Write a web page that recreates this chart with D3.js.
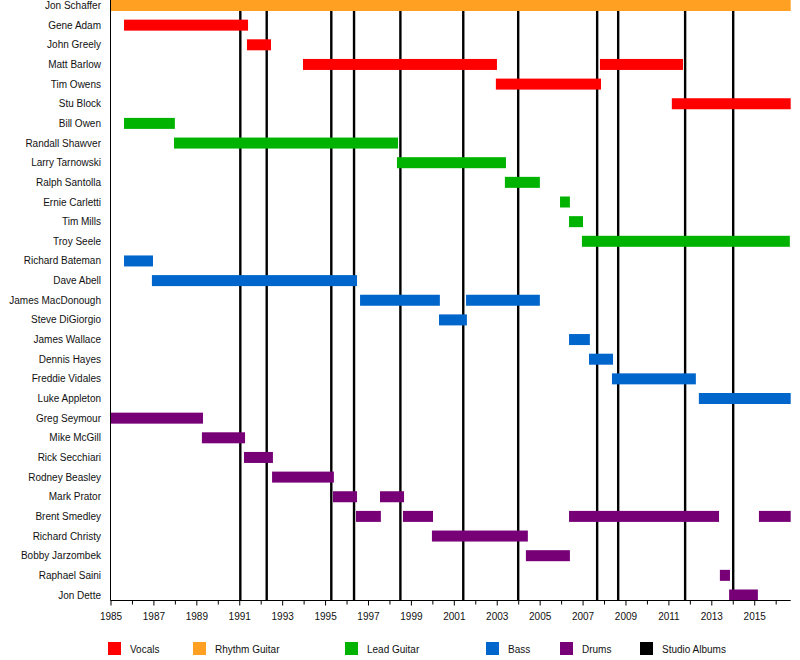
<!DOCTYPE html>
<html>
<head>
<meta charset="utf-8">
<script src="https://cdn.jsdelivr.net/npm/d3@7"></script>
<style>
  html, body { margin: 0; padding: 0; background: #fff; }
  svg { display: block; font-family: "Liberation Sans", Arial, sans-serif; }
</style>
</head>
<body>
<svg id="chart" width="800" height="660"></svg>
<script>
// ---------- DATA ----------
const members = [
  "Jon Schaffer", "Gene Adam", "John Greely", "Matt Barlow", "Tim Owens", "Stu Block",
  "Bill Owen", "Randall Shawver", "Larry Tarnowski", "Ralph Santolla", "Ernie Carletti",
  "Tim Mills", "Troy Seele", "Richard Bateman", "Dave Abell", "James MacDonough",
  "Steve DiGiorgio", "James Wallace", "Dennis Hayes", "Freddie Vidales", "Luke Appleton",
  "Greg Seymour", "Mike McGill", "Rick Secchiari", "Rodney Beasley", "Mark Prator",
  "Brent Smedley", "Richard Christy", "Bobby Jarzombek", "Raphael Saini", "Jon Dette"
];

const startYear = 1985;
const endYear = 2016.7;

const roles = ["Vocals", "Rhythm Guitar", "Lead Guitar", "Bass", "Drums", "Studio Albums"];
const roleColors = ["#ff0000", "#ffa022", "#00b300", "#0066cc", "#770077", "#000000"];

const vocals = [
  ["Gene Adam", 1985.63, 1991.41],
  ["John Greely", 1991.36, 1992.48],
  ["Matt Barlow", 1993.97, 2003.01],
  ["Matt Barlow", 2007.81, 2011.68],
  ["Tim Owens", 2002.96, 2007.86],
  ["Stu Block", 2011.16, 2016.7]
];
const rhythmGuitar = [
  ["Jon Schaffer", 1985.0, 2016.7]
];
const leadGuitar = [
  ["Bill Owen", 1985.63, 1988.0],
  ["Randall Shawver", 1987.96, 1998.4],
  ["Larry Tarnowski", 1998.35, 2003.43],
  ["Ralph Santolla", 2003.38, 2005.01],
  ["Ernie Carletti", 2005.95, 2006.41],
  ["Tim Mills", 2006.37, 2007.02],
  ["Troy Seele", 2006.97, 2016.66]
];
const bass = [
  ["Richard Bateman", 1985.63, 1986.98],
  ["Dave Abell", 1986.93, 1996.49],
  ["James MacDonough", 1996.63, 2000.35],
  ["James MacDonough", 2001.57, 2005.01],
  ["Steve DiGiorgio", 2000.31, 2001.61],
  ["James Wallace", 2006.37, 2007.34],
  ["Dennis Hayes", 2007.30, 2008.42],
  ["Freddie Vidales", 2008.37, 2012.28],
  ["Luke Appleton", 2012.42, 2016.7]
];
const drums = [
  ["Greg Seymour", 1985.0, 1989.31],
  ["Mike McGill", 1989.26, 1991.27],
  ["Rick Secchiari", 1991.22, 1992.57],
  ["Rodney Beasley", 1992.53, 1995.41],
  ["Mark Prator", 1995.37, 1996.49],
  ["Mark Prator", 1997.56, 1998.68],
  ["Brent Smedley", 1996.44, 1997.60],
  ["Brent Smedley", 1998.63, 2000.03],
  ["Brent Smedley", 2006.37, 2013.36],
  ["Brent Smedley", 2015.22, 2016.7],
  ["Richard Christy", 1999.98, 2004.45],
  ["Bobby Jarzombek", 2004.36, 2006.41],
  ["Raphael Saini", 2013.40, 2013.87],
  ["Jon Dette", 2013.83, 2015.17]
];
const studioAlbums = [1991.05, 1992.28, 1995.29, 1996.35, 1998.51, 2001.44, 2004.0, 2007.68, 2008.66, 2011.78, 2014.02];

const tickYears = d3.range(1985, 2017, 1);
const tickLabels = d3.range(1985, 2017, 2);

// ---------- DRAW ----------
const svg = d3.select("#chart");
const left = 110.5, right = 790.7, axisY = 600.5;

const x = d3.scaleLinear().domain([startYear, endYear]).range([left, right]);
const y = d3.scalePoint().domain(members).range([5.5, 595]);
const color = d3.scaleOrdinal().domain(roles).range(roleColors);
const barH = 11;

// album lines (behind bars)
svg.append("g").selectAll("line").data(studioAlbums).join("line")
  .attr("x1", d => x(d)).attr("x2", d => x(d))
  .attr("y1", 10).attr("y2", axisY)
  .attr("stroke", color("Studio Albums")).attr("stroke-width", 2.4);

const bars = [
  ...vocals.map(d => ({name: d[0], s: d[1], e: d[2], role: "Vocals"})),
  ...rhythmGuitar.map(d => ({name: d[0], s: d[1], e: d[2], role: "Rhythm Guitar"})),
  ...leadGuitar.map(d => ({name: d[0], s: d[1], e: d[2], role: "Lead Guitar"})),
  ...bass.map(d => ({name: d[0], s: d[1], e: d[2], role: "Bass"})),
  ...drums.map(d => ({name: d[0], s: d[1], e: d[2], role: "Drums"}))
];

svg.append("g").selectAll("rect").data(bars).join("rect")
  .attr("x", d => x(d.s))
  .attr("width", d => x(d.e) - x(d.s))
  .attr("y", d => y(d.name) - barH / 2)
  .attr("height", barH)
  .attr("fill", d => color(d.role));

// member labels
svg.append("g").selectAll("text").data(members).join("text")
  .attr("x", 101).attr("y", d => y(d))
  .attr("dy", "0.35em")
  .attr("text-anchor", "end")
  .attr("font-size", 10)
  .attr("fill", "#111")
  .text(d => d);

// axes lines
svg.append("line").attr("x1", left).attr("x2", left).attr("y1", 0).attr("y2", axisY)
  .attr("stroke", "#000").attr("stroke-width", 1);

const xAxis = d3.axisBottom(x)
  .tickValues(tickYears)
  .tickSize(5)
  .tickFormat(d => tickLabels.includes(d) ? String(d) : "");
const gx = svg.append("g").attr("transform", `translate(0,${axisY})`).call(xAxis);
gx.select(".domain").attr("d", `M${left},0H${right}`).attr("stroke", "#000");
gx.selectAll(".tick line").attr("stroke", "#000")
  .attr("y2", d => tickLabels.includes(d) ? 5 : 4);
gx.selectAll(".tick text")
  .attr("font-family", "'Liberation Sans', Arial, sans-serif")
  .attr("font-size", 10).attr("fill", "#111").attr("y", 12);

// legend
const legendX = [108, 193, 345, 486, 560, 640];
const lg = svg.append("g").selectAll("g").data(roles).join("g")
  .attr("transform", (d, i) => `translate(${legendX[i]},642)`);
lg.append("rect").attr("width", 13).attr("height", 13).attr("fill", d => color(d));
lg.append("text").attr("x", 22).attr("y", 7).attr("dy", "0.35em")
  .attr("font-size", 10).attr("fill", "#111").text(d => d);
</script>
</body>
</html>
